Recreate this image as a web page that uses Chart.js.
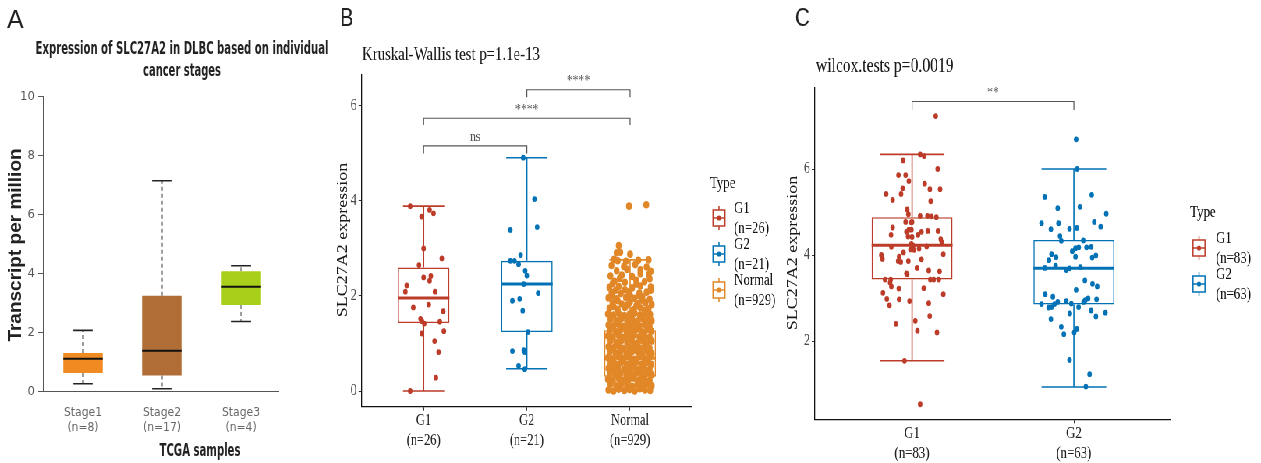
<!DOCTYPE html>
<html>
<head>
<meta charset="utf-8">
<script src="https://cdn.jsdelivr.net/npm/chart.js@4.4.1/dist/chart.umd.min.js"></script>
<style>
html, body { margin: 0; padding: 0; background: #fff; overflow: hidden; }
#wrap { position: relative; width: 1261px; height: 463px; background: #fff; }
#wrap canvas { position: absolute; left: 0; top: 0; }
#squeeze { position: absolute; left: 0; top: 0; width: 1617px; height: 463px; transform-origin: 0 0; }
</style>
</head>
<body>
<div id="wrap">
  <canvas id="chartA" width="1261" height="463"></canvas>
  <div id="squeeze">
    <canvas id="chartB" width="1617" height="463"></canvas>
    <canvas id="chartC" width="1617" height="463"></canvas>
  </div>
</div>
<script>
// ---- Panel A: GEPIA stage plot ----
const stageLabels = ['Stage1', 'Stage2', 'Stage3'];
const stageN = ['(n=8)', '(n=17)', '(n=4)'];
const stageLow = [0.27, 0.10, 2.38];
const stageQ1 = [0.63, 0.55, 2.94];
const stageMedian = [1.12, 1.39, 3.56];
const stageQ3 = [1.31, 3.25, 4.08];
const stageHigh = [2.08, 7.15, 4.27];
const stageColors = ['#F18B21', '#B06D36', '#A8CF1A'];
const tpmTicks = [0, 2, 4, 6, 8, 10];

// ---- Panel B: grade vs normal ----
const gradeLabels = ['G1', 'G2', 'Normal'];
const gradeN = ['(n=26)', '(n=21)', '(n=929)'];
const gradeColors = ['#BC3C29', '#0072B5', '#E18727'];
const gradeLow = [0, 0.47, 0];
const gradeQ1 = [1.43, 1.24, 0.30];
const gradeMedian = [1.96, 2.25, 0.69];
const gradeQ3 = [2.60, 2.74, 1.28];
const gradeHigh = [3.89, 4.91, 2.76];
const exprTicksB = [0, 2, 4, 6];
// [jitter offset, expression]
const g1PointsB = [[-0.13,0],[-0.13,3.89],[-0.02,3.67],[0.058,3.81],[0.096,3.74],[0,3.0],[0.176,2.79],[-0.045,2.65],
  [0,2.39],[0.07,2.42],[0.058,2.32],[-0.164,2.22],[-0.177,2.09],[0.11,2.09],[-0.1,1.76],[0.05,1.82],[0.19,1.68],
  [-0.03,1.52],[-0.016,1.47],[0.006,1.42],[0.157,1.46],[0.196,1.26],[-0.016,1.21],[0.106,1.05],[0.145,0.82],[0.119,0.28]];
const g2PointsB = [[-0.035,4.91],[0.074,4.04],[0.1,3.45],[-0.16,3.39],[-0.06,2.86],[-0.16,2.74],[-0.12,2.74],[-0.08,2.67],
  [-0.016,2.53],[0,2.43],[-0.03,2.25],[0.11,2.06],[-0.07,1.94],[-0.14,1.90],[-0.04,1.69],[0.01,1.24],[-0.14,0.84],
  [-0.03,0.86],[-0.02,0.82],[-0.08,0.53],[-0.02,0.46]];
const normalPointsB = [
  [-0.21,0.02],[-0.16,0.0],[-0.11,0.04],[-0.055,0.01],[-0.005,0.03],[0.045,0.0],[0.095,0.05],[0.145,0.02],[0.195,0.01],
  [-0.19,0.14],[-0.135,0.11],[-0.085,0.15],[-0.03,0.12],[0.02,0.1],[0.07,0.14],[0.12,0.12],[0.17,0.15],[0.21,0.11],
  [-0.215,0.25],[-0.165,0.23],[-0.11,0.26],[-0.06,0.22],[-0.01,0.25],[0.04,0.27],[0.09,0.23],[0.14,0.25],[0.19,0.22],
  [-0.195,0.37],[-0.14,0.35],[-0.09,0.38],[-0.035,0.34],[0.015,0.36],[0.065,0.39],[0.115,0.35],[0.165,0.37],[0.21,0.34],
  [-0.21,0.48],[-0.16,0.46],[-0.115,0.49],[-0.06,0.45],[-0.01,0.47],[0.04,0.5],[0.09,0.46],[0.14,0.48],[0.19,0.45],
  [-0.19,0.59],[-0.14,0.57],[-0.085,0.6],[-0.035,0.56],[0.015,0.58],[0.065,0.61],[0.115,0.57],[0.165,0.6],[0.205,0.56],
  [-0.215,0.7],[-0.165,0.68],[-0.11,0.72],[-0.06,0.69],[-0.01,0.71],[0.04,0.67],[0.09,0.72],[0.14,0.69],[0.19,0.71],
  [-0.195,0.82],[-0.14,0.8],[-0.09,0.83],[-0.035,0.79],[0.015,0.82],[0.065,0.84],[0.115,0.8],[0.165,0.83],[0.21,0.79],
  [-0.21,0.93],[-0.16,0.91],[-0.11,0.94],[-0.06,0.9],[-0.01,0.92],[0.04,0.95],[0.09,0.91],[0.14,0.93],[0.19,0.9],
  [-0.19,1.05],[-0.135,1.02],[-0.085,1.06],[-0.03,1.03],[0.02,1.05],[0.07,1.01],[0.12,1.06],[0.165,1.03],[0.21,1.05],
  [-0.215,1.16],[-0.165,1.14],[-0.11,1.17],[-0.06,1.13],[-0.01,1.16],[0.04,1.18],[0.09,1.14],[0.14,1.16],[0.19,1.13],
  [-0.195,1.28],[-0.14,1.25],[-0.09,1.29],[-0.035,1.26],[0.015,1.28],[0.065,1.3],[0.115,1.25],[0.165,1.29],[0.205,1.26],
  [-0.21,1.39],[-0.16,1.37],[-0.11,1.4],[-0.06,1.36],[-0.01,1.39],[0.04,1.41],[0.09,1.37],[0.14,1.4],[0.19,1.36],
  [-0.19,1.51],[-0.135,1.48],[-0.085,1.52],[-0.03,1.49],[0.02,1.51],[0.07,1.47],[0.12,1.52],[0.17,1.5],[0.21,1.48],
  [-0.215,1.62],[-0.16,1.6],[-0.11,1.63],[-0.055,1.59],[-0.005,1.62],[0.045,1.64],[0.095,1.6],[0.145,1.63],[0.195,1.61],
  [-0.2,1.74],[-0.12,1.72],[-0.05,1.76],[0.03,1.71],[0.1,1.75],[0.18,1.73],[-0.16,1.78],[0.06,1.79],[0.14,1.7],
  [-0.17,1.85],[-0.08,1.83],[0.0,1.87],[0.07,1.84],[0.15,1.86],[0.21,1.82],[-0.12,1.9],[-0.03,1.81],[0.11,1.91],
  [-0.21,1.96],[-0.13,1.94],[-0.04,1.97],[0.04,1.95],[0.12,1.98],[0.19,1.93],[0.08,2.01],[-0.17,2.0],[0.0,2.02],
  [-0.18,2.07],[-0.09,2.05],[-0.01,2.09],[0.09,2.06],[0.16,2.08],[-0.05,2.13],[0.2,2.12],[-0.14,2.12],
  [-0.2,2.18],[-0.11,2.2],[0.02,2.17],[0.1,2.21],[0.2,2.19],[0.06,2.25],[-0.17,2.26],
  [-0.15,2.31],[-0.05,2.29],[0.06,2.33],[0.14,2.3],[-0.1,2.37],[0.19,2.36],
  [-0.19,2.42],[-0.08,2.44],[0.02,2.41],[0.18,2.45],[0.1,2.47],
  [-0.13,2.53],[0.1,2.55],[0.2,2.52],[-0.03,2.56],
  [-0.18,2.64],[-0.06,2.62],[0.05,2.66],[0.16,2.61],
  [-0.155,2.77],[-0.12,2.74],[-0.04,2.73],[0.08,2.75],[0.18,2.76],
  [-0.13,2.91],[-0.095,2.92],[0.0,2.88],
  [-0.11,3.06],
  [-0.01,3.89],[0.157,3.92]];
// significance brackets: from group, to group, bracket level, leg end, label
const sigB = [
  { from: 1, to: 2, top: 5.16, drop: 5.0, text: 'ns' },
  { from: 1, to: 3, top: 5.74, drop: 5.6, text: '****' },
  { from: 2, to: 3, top: 6.34, drop: 6.18, text: '****' }];

// ---- Panel C: G1 vs G2 ----
const groupLabelsC = ['G1', 'G2'];
const groupNC = ['(n=83)', '(n=63)'];
const groupLowC = [1.54, 0.93];
const groupQ1C = [3.43, 2.85];
const groupMedianC = [4.23, 3.69];
const groupQ3C = [4.88, 4.35];
const groupHighC = [6.34, 6.0];
const exprTicksC = [2, 4, 6];
const g1PointsC = [[0.146,7.23],[0.05,6.34],[0.074,6.30],[-0.056,6.20],[0.158,6.0],[-0.084,5.86],[-0.04,5.86],[-0.02,5.72],
  [0.078,5.66],[-0.058,5.55],[0.11,5.53],[0.173,5.53],[-0.16,5.42],[-0.068,5.42],[-0.12,5.28],[0.115,5.25],[-0.03,5.06],
  [-0.023,4.95],[0.05,4.91],[0.095,4.91],[0.12,4.90],[0.15,4.88],[-0.04,4.77],[0.0,4.77],[-0.12,4.64],[-0.02,4.59],
  [-0.004,4.59],[0.058,4.54],[0.097,4.56],[0.16,4.56],[-0.13,4.47],[0.037,4.47],[-0.025,4.43],[0.0,4.42],[0.177,4.37],
  [0.183,4.30],[-0.004,4.26],[0.006,4.22],[-0.128,4.19],[-0.01,4.13],[0.043,4.15],[0.012,4.12],[-0.053,4.06],[0.193,4.02],
  [-0.187,3.96],[-0.183,3.91],[-0.086,3.86],[-0.07,3.84],[-0.023,3.86],[0.058,3.90],[-0.035,3.57],[-0.03,3.55],[0.103,3.64],
  [0.17,3.62],[-0.167,3.43],[-0.132,3.43],[0.113,3.43],[0.134,3.43],[0.165,3.43],[-0.136,3.36],[-0.128,3.27],[-0.082,3.22],
  [0.072,3.23],[-0.18,3.12],[0.193,3.09],[-0.156,2.98],[-0.08,2.97],[-0.016,2.93],[-0.14,2.83],[0.103,2.88],[0.109,2.58],
  [0.02,2.47],[-0.1,2.40],[0.033,2.24],[0.154,2.20],[-0.047,1.54],[0.05,0.53],[-0.005,4.76],[-0.035,4.54],[0.09,4.2],
  [-0.08,3.96],[0.03,3.7],[-0.19,4.0]];
const g2PointsC = [[0.014,6.69],[0.02,6.0],[-0.18,5.35],[0.11,5.40],[-0.1,5.09],[0.037,5.12],[0.2,4.96],[-0.2,4.74],
  [-0.095,4.74],[0.126,4.77],[-0.142,4.60],[-0.027,4.61],[0.018,4.63],[0.165,4.66],[-0.086,4.44],[-0.078,4.33],[0.058,4.34],
  [0.107,4.19],[0.078,4.18],[0.03,4.18],[0.01,4.16],[-0.01,4.09],[-0.138,4.02],[-0.11,3.95],[0.136,3.99],[0.113,3.94],
  [0.01,3.96],[-0.154,3.88],[-0.113,3.75],[-0.18,3.70],[-0.047,3.65],[-0.027,3.69],[0.04,3.72],[0.068,3.41],[0.115,3.33],
  [0.144,3.27],[0.014,3.19],[-0.177,3.09],[-0.13,3.03],[0.14,2.97],[0.088,2.99],[0.07,2.95],[0.06,2.91],[-0.047,2.93],
  [-0.1,2.91],[-0.12,2.86],[-0.2,2.86],[-0.138,2.79],[-0.156,2.78],[-0.016,2.87],[0.029,2.79],[0.107,2.71],[0.195,2.66],
  [-0.025,2.64],[0.136,2.57],[-0.142,2.51],[-0.078,2.33],[-0.062,2.16],[0.018,2.28],[0.002,2.20],[-0.027,1.56],
  [0.097,1.23],[0.074,0.94]];
const sigC = [{ from: 1, to: 2, top: 7.57, drop: 7.37, text: '**' }];

// ---- shared helpers ----
const SERIF = "'Liberation Serif', 'Times New Roman', serif";
const NARROW = "'Liberation Sans Narrow', 'Arial Narrow', 'DejaVu Sans Condensed', sans-serif";
const SANS = "'Liberation Sans', Arial, sans-serif";
const WB = 1617;               // internal width of the squeezed R panels
const SQ = 1261 / WB;          // horizontal squeeze like the source figure
const K = WB / 1261;
const X = v => v * K;          // picture x -> internal x of squeezed canvases
document.getElementById('squeeze').style.transform = 'scaleX(' + SQ + ')';

function label(ctx, s, x, y, font, color, align, maxW) {
  ctx.font = font;
  ctx.fillStyle = color;
  ctx.textAlign = align || 'left';
  ctx.textBaseline = 'middle';
  if (maxW) ctx.fillText(s, x, y, maxW); else ctx.fillText(s, x, y);
}
function vlabel(ctx, s, x, y, font, color, maxW) {
  ctx.save();
  ctx.translate(x, y);
  ctx.rotate(-Math.PI / 2);
  label(ctx, s, 0, 0, font, color, 'center', maxW);
  ctx.restore();
}
function pts(arr, cat, color, r) {
  return {
    type: 'scatter', order: 0,
    data: arr.map(([o, v]) => ({ x: cat + o, y: v })),
    pointRadius: r, pointBorderWidth: 0,
    backgroundColor: color, borderColor: color
  };
}
function boxData(q1, q3) {
  return q1.map((v, i) => ({ x: i + 1, y: [v, q3[i]] }));
}

// whiskers + caps under the boxes, medians right after the boxes, texts at the end
function boxLayer(id, s) {
  return {
    id: id,
    beforeDatasetsDraw(chart) {
      const { ctx, scales: { x, y } } = chart;
      const unit = x.getPixelForValue(2) - x.getPixelForValue(1);
      ctx.save();
      s.low.forEach((lo, i) => {
        const px = x.getPixelForValue(i + 1);
        ctx.strokeStyle = s.whiskerColor || s.colors[i];
        ctx.lineWidth = s.whiskerWidth;
        ctx.setLineDash(s.dash || []);
        ctx.beginPath();
        ctx.moveTo(px, y.getPixelForValue(s.q3[i]));
        ctx.lineTo(px, y.getPixelForValue(s.high[i]));
        ctx.moveTo(px, y.getPixelForValue(s.q1[i]));
        ctx.lineTo(px, y.getPixelForValue(lo));
        ctx.stroke();
        ctx.setLineDash([]);
        ctx.strokeStyle = s.capColor || s.colors[i];
        ctx.lineWidth = s.capWidth;
        const hw = s.capHalf * unit;
        ctx.beginPath();
        [s.high[i], lo].forEach(v => {
          const py = y.getPixelForValue(v);
          ctx.moveTo(px - hw, py);
          ctx.lineTo(px + hw, py);
        });
        ctx.stroke();
      });
      ctx.restore();
    },
    afterDatasetDraw(chart, args) {
      if (args.index !== 0) return;
      const { ctx, scales: { x, y } } = chart;
      const unit = x.getPixelForValue(2) - x.getPixelForValue(1);
      ctx.save();
      s.median.forEach((m, i) => {
        const px = x.getPixelForValue(i + 1);
        const py = y.getPixelForValue(m);
        ctx.strokeStyle = s.medianColor || s.colors[i];
        ctx.lineWidth = s.medianWidth;
        ctx.beginPath();
        ctx.moveTo(px - 0.25 * unit, py);
        ctx.lineTo(px + 0.25 * unit, py);
        ctx.stroke();
      });
      ctx.restore();
    },
    afterDraw(chart) {
      chart.ctx.save();
      s.decorate(chart);
      chart.ctx.restore();
    }
  };
}

function drawBrackets(chart, list, fontSize) {
  const { ctx, scales: { x, y } } = chart;
  ctx.strokeStyle = '#555';
  ctx.lineWidth = 1.2;
  list.forEach(b => {
    const x1 = x.getPixelForValue(b.from), x2 = x.getPixelForValue(b.to);
    const yt = y.getPixelForValue(b.top), yd = y.getPixelForValue(b.drop);
    ctx.beginPath();
    ctx.moveTo(x1, yd); ctx.lineTo(x1, yt); ctx.lineTo(x2, yt); ctx.lineTo(x2, yd);
    ctx.stroke();
    ctx.font = fontSize + 'px ' + SERIF;
    ctx.fillStyle = '#555';
    ctx.textAlign = 'center';
    ctx.textBaseline = 'alphabetic';
    ctx.fillText(b.text, (x1 + x2) / 2, yt - 4.5);
  });
}

function drawLegend(ctx, L, names, counts, colors) {
  label(ctx, 'Type', X(L.x), L.titleY, '16.5px ' + SERIF, '#111', 'left');
  const kx = X(L.keyX), hw = X(6);
  names.forEach((nm, i) => {
    const cy = L.firstY + i * L.step;
    ctx.strokeStyle = colors[i];
    ctx.lineWidth = 1.5;
    ctx.beginPath();
    ctx.moveTo(kx, cy - 12); ctx.lineTo(kx, cy + 12);
    ctx.stroke();
    ctx.fillStyle = '#fff';
    ctx.fillRect(kx - hw, cy - 8, 2 * hw, 16);
    ctx.strokeRect(kx - hw, cy - 8, 2 * hw, 16);
    ctx.beginPath();
    ctx.moveTo(kx - hw, cy); ctx.lineTo(kx + hw, cy);
    ctx.stroke();
    ctx.fillStyle = colors[i];
    ctx.beginPath();
    ctx.arc(kx, cy, 2.6, 0, Math.PI * 2);
    ctx.fill();
    label(ctx, nm, X(L.textX), cy - 9, '16.5px ' + SERIF, '#111', 'left');
    label(ctx, counts[i], X(L.textX), cy + 10.5, '16.5px ' + SERIF, '#111', 'left');
  });
}

// ---- Chart A ----
new Chart(document.getElementById('chartA'), {
  type: 'scatter',
  data: {
    datasets: [{
      type: 'bar', order: 1,
      data: boxData(stageQ1, stageQ3),
      backgroundColor: stageColors, borderWidth: 0, borderSkipped: false,
      grouped: false, categoryPercentage: 1, barPercentage: 0.5
    }]
  },
  options: {
    responsive: false, animation: false, events: [],
    layout: { padding: { left: 0, top: 96.7, right: 1261 - 278, bottom: 0 } },
    plugins: { legend: { display: false }, tooltip: { enabled: false } },
    scales: {
      x: {
        type: 'linear', min: 0.494, max: 3.468, offset: false,
        afterFit: s => { s.height = 463 - 391.7; },
        afterBuildTicks: s => { s.ticks = stageLabels.map((l, i) => ({ value: i + 1 })); },
        grid: { display: false, drawTicks: false, offset: false },
        border: { display: true, color: '#555', width: 1 },
        ticks: {
          autoSkip: false, maxRotation: 0, padding: 13.8, color: '#666',
          font: { family: NARROW, size: 12, lineHeight: 1.25 },
          callback: v => [stageLabels[v - 1], stageN[v - 1]]
        }
      },
      y: {
        type: 'linear', min: 0, max: 10,
        afterFit: s => { s.width = 43; },
        afterBuildTicks: s => { s.ticks = tpmTicks.map(v => ({ value: v })); },
        grid: { drawOnChartArea: false, drawTicks: true, tickLength: 5, tickColor: '#555' },
        border: { display: true, color: '#555', width: 1 },
        ticks: { padding: 3, color: '#555', font: { family: NARROW, size: 13 } }
      }
    }
  },
  plugins: [boxLayer('layerA', {
    low: stageLow, q1: stageQ1, median: stageMedian, q3: stageQ3, high: stageHigh,
    colors: stageColors, whiskerColor: '#777', whiskerWidth: 1.4, dash: [4, 3],
    capColor: '#222', capWidth: 1.6, capHalf: 0.125, medianColor: '#111', medianWidth: 2,
    decorate(chart) {
      const ctx = chart.ctx;
      label(ctx, 'A', 7, 21, '25px ' + SANS, '#222', 'left');
      label(ctx, 'Expression of SLC27A2 in DLBC based on individual', 182, 49, 'bold 18px ' + NARROW, '#222', 'center', 293);
      label(ctx, 'cancer stages', 182, 71, 'bold 18px ' + NARROW, '#222', 'center', 78);
      label(ctx, 'TCGA samples', 200, 452, 'bold 17px ' + NARROW, '#222', 'center', 81);
      vlabel(ctx, 'Transcript per million', 16, 245, 'bold 19px ' + SANS, '#222', 195);
    }
  })]
});

// ---- Chart B ----
new Chart(document.getElementById('chartB'), {
  type: 'scatter',
  data: {
    datasets: [
      {
        type: 'bar', order: 1,
        data: boxData(gradeQ1, gradeQ3),
        backgroundColor: '#fff', borderColor: gradeColors, borderWidth: 1.6, borderSkipped: false,
        grouped: false, categoryPercentage: 1, barPercentage: 0.5
      },
      pts(g1PointsB, 1, gradeColors[0], 2.9),
      pts(g2PointsB, 2, gradeColors[1], 2.9),
      pts(normalPointsB, 3, gradeColors[2], 3.8)
    ]
  },
  options: {
    responsive: false, animation: false, events: [],
    layout: { padding: { left: X(361.7) - 30, top: 75, right: WB - X(692), bottom: 0 } },
    plugins: { legend: { display: false }, tooltip: { enabled: false } },
    scales: {
      x: {
        type: 'linear', min: 0.4, max: 3.6, offset: false,
        afterFit: s => { s.height = 463 - 406.7; },
        afterBuildTicks: s => { s.ticks = gradeLabels.map((l, i) => ({ value: i + 1 })); },
        grid: { drawOnChartArea: false, drawTicks: true, tickLength: 4, tickColor: '#333', offset: false },
        border: { display: true, color: '#111', width: 1.3 },
        ticks: {
          autoSkip: false, maxRotation: 0, padding: 0, color: '#222',
          font: { family: SERIF, size: 16, lineHeight: 1.27 },
          callback: v => [gradeLabels[v - 1], gradeN[v - 1]]
        }
      },
      y: {
        type: 'linear', min: -0.33, max: 6.65,
        afterFit: s => { s.width = 30; },
        afterBuildTicks: s => { s.ticks = exprTicksB.map(v => ({ value: v })); },
        grid: { drawOnChartArea: false, drawTicks: true, tickLength: 4, tickColor: '#333' },
        border: { display: true, color: '#111', width: 1.3 },
        ticks: { padding: 2.4, color: '#4d4d4d', font: { family: SERIF, size: 16 } }
      }
    }
  },
  plugins: [boxLayer('layerB', {
    low: gradeLow, q1: gradeQ1, median: gradeMedian, q3: gradeQ3, high: gradeHigh,
    colors: gradeColors, whiskerWidth: 1.6, capWidth: 1.6, capHalf: 0.2, medianWidth: 3,
    decorate(chart) {
      const ctx = chart.ctx;
      label(ctx, 'B', X(340), 19, '26px ' + SANS, '#222', 'left');
      label(ctx, 'Kruskal-Wallis test p=1.1e-13', X(362), 55, '19px ' + SERIF, '#1a1a1a', 'left');
      vlabel(ctx, 'SLC27A2 expression', X(343), 240, '18px ' + SERIF, '#1a1a1a');
      drawBrackets(chart, sigB, 15);
      drawLegend(ctx, { x: 710, titleY: 184, keyX: 719, textX: 734, firstY: 218, step: 36 },
        gradeLabels, gradeN, gradeColors);
    }
  })]
});

// ---- Chart C ----
new Chart(document.getElementById('chartC'), {
  type: 'scatter',
  data: {
    datasets: [
      {
        type: 'bar', order: 1,
        data: boxData(groupQ1C, groupQ3C),
        backgroundColor: '#fff', borderColor: gradeColors.slice(0, 2), borderWidth: 1.6, borderSkipped: false,
        grouped: false, categoryPercentage: 1, barPercentage: 0.5
      },
      pts(g1PointsC, 1, gradeColors[0], 2.9),
      pts(g2PointsC, 2, gradeColors[1], 2.9)
    ]
  },
  options: {
    responsive: false, animation: false, events: [],
    layout: { padding: { left: X(815) - 30, top: 87.3, right: WB - X(1171), bottom: 0 } },
    plugins: { legend: { display: false }, tooltip: { enabled: false } },
    scales: {
      x: {
        type: 'linear', min: 0.4, max: 2.6, offset: false,
        afterFit: s => { s.height = 463 - 419.3; },
        afterBuildTicks: s => { s.ticks = groupLabelsC.map((l, i) => ({ value: i + 1 })); },
        grid: { drawOnChartArea: false, drawTicks: true, tickLength: 4, tickColor: '#333', offset: false },
        border: { display: true, color: '#111', width: 1.3 },
        ticks: {
          autoSkip: false, maxRotation: 0, padding: 0, color: '#222',
          font: { family: SERIF, size: 16.5, lineHeight: 1.23 },
          callback: v => [groupLabelsC[v - 1], groupNC[v - 1]]
        }
      },
      y: {
        type: 'linear', min: 0.18, max: 7.9,
        afterFit: s => { s.width = 30; },
        afterBuildTicks: s => { s.ticks = exprTicksC.map(v => ({ value: v })); },
        grid: { drawOnChartArea: false, drawTicks: true, tickLength: 4, tickColor: '#333' },
        border: { display: true, color: '#111', width: 1.3 },
        ticks: { padding: 2.4, color: '#4d4d4d', font: { family: SERIF, size: 16 } }
      }
    }
  },
  plugins: [boxLayer('layerC', {
    low: groupLowC, q1: groupQ1C, median: groupMedianC, q3: groupQ3C, high: groupHighC,
    colors: gradeColors, whiskerWidth: 1.6, capWidth: 1.6, capHalf: 0.2, medianWidth: 3,
    decorate(chart) {
      const ctx = chart.ctx;
      label(ctx, 'C', X(795), 19, '26px ' + SANS, '#222', 'left');
      label(ctx, 'wilcox.tests p=0.0019', X(816), 67, '20px ' + SERIF, '#1a1a1a', 'left');
      vlabel(ctx, 'SLC27A2 expression', X(793), 253, '18px ' + SERIF, '#1a1a1a');
      drawBrackets(chart, sigC, 15);
      drawLegend(ctx, { x: 1190, titleY: 213, keyX: 1199, textX: 1216, firstY: 248, step: 36 },
        groupLabelsC, groupNC, gradeColors);
    }
  })]
});
</script>
</body>
</html>
